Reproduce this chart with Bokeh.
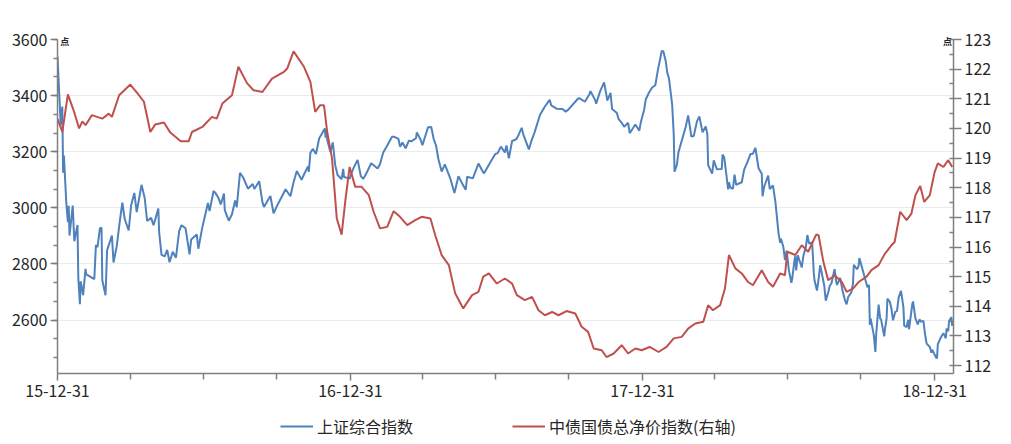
import pandas as pd
from bokeh.plotting import figure
from bokeh.layouts import column
from bokeh.models import (Range1d, LinearAxis, SingleIntervalTicker, FixedTicker,
                          Legend, LegendItem, DatetimeTickFormatter, ColumnDataSource)
from bokeh.embed import file_html
from bokeh.resources import INLINE

# ---------------- data ----------------
sse_dates = [
    "2015-12-31", "2016-01-04", "2016-01-06", "2016-01-07", "2016-01-08", "2016-01-11", "2016-01-13",
    "2016-01-14", "2016-01-15", "2016-01-19", "2016-01-21", "2016-01-25", "2016-01-26", "2016-01-28",
    "2016-01-29", "2016-02-01", "2016-02-04", "2016-02-05", "2016-02-15", "2016-02-17", "2016-02-19",
    "2016-02-22", "2016-02-24", "2016-02-25", "2016-02-29", "2016-03-02", "2016-03-08", "2016-03-10",
    "2016-03-14", "2016-03-18", "2016-03-21", "2016-03-24", "2016-03-29", "2016-04-01", "2016-04-05",
    "2016-04-08", "2016-04-14", "2016-04-18", "2016-04-21", "2016-04-26", "2016-04-29", "2016-05-05",
    "2016-05-06", "2016-05-09", "2016-05-13", "2016-05-16", "2016-05-19", "2016-05-23", "2016-05-27",
    "2016-05-31", "2016-06-03", "2016-06-08", "2016-06-13", "2016-06-15", "2016-06-22", "2016-06-24",
    "2016-06-29", "2016-07-06", "2016-07-08", "2016-07-13", "2016-07-15", "2016-07-19", "2016-07-22",
    "2016-07-26", "2016-07-27", "2016-08-01", "2016-08-05", "2016-08-09", "2016-08-11", "2016-08-15",
    "2016-08-19", "2016-08-25", "2016-08-31", "2016-09-02", "2016-09-08", "2016-09-12", "2016-09-14",
    "2016-09-22", "2016-09-26", "2016-09-30", "2016-10-11", "2016-10-17", "2016-10-21", "2016-10-25",
    "2016-10-31", "2016-11-04", "2016-11-08", "2016-11-09", "2016-11-11", "2016-11-14", "2016-11-18",
    "2016-11-22", "2016-11-25", "2016-11-29", "2016-11-30", "2016-12-01", "2016-12-02", "2016-12-06",
    "2016-12-09", "2016-12-12", "2016-12-15", "2016-12-20", "2016-12-22", "2016-12-23", "2016-12-30",
    "2017-01-03", "2017-01-06", "2017-01-09", "2017-01-13", "2017-01-16", "2017-01-20", "2017-01-26",
    "2017-02-03", "2017-02-06", "2017-02-10", "2017-02-14", "2017-02-21", "2017-02-24", "2017-03-01",
    "2017-03-03", "2017-03-06", "2017-03-10", "2017-03-14", "2017-03-17", "2017-03-23", "2017-03-24",
    "2017-03-29", "2017-03-31", "2017-04-07", "2017-04-11", "2017-04-14", "2017-04-17", "2017-04-20",
    "2017-04-24", "2017-04-28", "2017-05-05", "2017-05-10", "2017-05-15", "2017-05-19", "2017-05-24",
    "2017-05-26", "2017-06-02", "2017-06-09", "2017-06-14", "2017-06-16", "2017-06-23", "2017-06-30",
    "2017-07-03", "2017-07-07", "2017-07-12", "2017-07-14", "2017-07-17", "2017-07-21", "2017-07-26",
    "2017-07-28", "2017-08-02", "2017-08-04", "2017-08-11", "2017-08-14", "2017-08-18", "2017-08-25",
    "2017-08-31", "2017-09-06", "2017-09-08", "2017-09-15", "2017-09-22", "2017-09-26", "2017-09-29",
    "2017-10-11", "2017-10-13", "2017-10-20", "2017-10-26", "2017-10-27", "2017-11-02", "2017-11-03",
    "2017-11-08", "2017-11-13", "2017-11-16", "2017-11-17", "2017-11-21", "2017-11-23", "2017-11-29",
    "2017-12-01", "2017-12-05", "2017-12-08", "2017-12-13", "2017-12-15", "2017-12-20", "2017-12-22",
    "2017-12-27", "2017-12-29",
    "2018-01-02", "2018-01-04", "2018-01-08", "2018-01-12", "2018-01-16", "2018-01-19", "2018-01-24",
    "2018-01-26", "2018-01-29", "2018-01-31", "2018-02-02", "2018-02-06", "2018-02-08", "2018-02-09",
    "2018-02-12", "2018-02-14", "2018-02-23", "2018-02-26", "2018-03-01", "2018-03-02", "2018-03-05",
    "2018-03-09", "2018-03-12", "2018-03-16", "2018-03-20", "2018-03-22", "2018-03-23", "2018-03-28",
    "2018-03-30", "2018-04-03", "2018-04-09", "2018-04-10", "2018-04-12", "2018-04-13", "2018-04-17",
    "2018-04-18", "2018-04-20", "2018-04-23", "2018-04-25", "2018-04-27", "2018-05-04", "2018-05-07",
    "2018-05-11", "2018-05-15", "2018-05-18", "2018-05-21", "2018-05-25", "2018-05-29", "2018-05-30",
    "2018-06-01", "2018-06-06", "2018-06-08", "2018-06-12", "2018-06-15", "2018-06-19", "2018-06-21",
    "2018-06-22", "2018-06-25", "2018-06-27", "2018-06-29", "2018-07-02", "2018-07-05", "2018-07-06",
    "2018-07-09", "2018-07-10", "2018-07-11", "2018-07-13", "2018-07-18", "2018-07-20", "2018-07-23",
    "2018-07-25", "2018-07-27", "2018-07-31", "2018-08-02", "2018-08-03", "2018-08-06", "2018-08-08",
    "2018-08-10", "2018-08-15", "2018-08-17", "2018-08-20", "2018-08-22", "2018-08-24", "2018-08-28",
    "2018-08-30", "2018-08-31", "2018-09-04", "2018-09-07", "2018-09-10", "2018-09-12", "2018-09-14",
    "2018-09-18", "2018-09-20", "2018-09-21", "2018-09-25", "2018-09-27", "2018-09-28", "2018-10-08",
    "2018-10-10", "2018-10-11", "2018-10-12", "2018-10-16", "2018-10-18", "2018-10-19", "2018-10-22",
    "2018-10-24", "2018-10-25", "2018-10-29", "2018-10-30", "2018-11-01", "2018-11-02", "2018-11-05",
    "2018-11-07", "2018-11-09", "2018-11-12", "2018-11-14", "2018-11-16", "2018-11-19", "2018-11-22",
    "2018-11-23", "2018-11-26", "2018-11-28", "2018-11-29", "2018-11-30", "2018-12-03", "2018-12-04",
    "2018-12-07", "2018-12-10", "2018-12-12", "2018-12-14", "2018-12-17", "2018-12-19", "2018-12-21",
    "2018-12-25", "2018-12-27", "2018-12-28",
    "2019-01-02", "2019-01-03", "2019-01-04", "2019-01-07", "2019-01-09", "2019-01-11", "2019-01-14",
    "2019-01-15", "2019-01-17", "2019-01-18", "2019-01-21", "2019-01-22",
]
sse_values = [
    3539, 3296, 3361, 3125, 3186, 3017, 2949,
    3007, 2901, 3008, 2881, 2939, 2750, 2656,
    2738, 2689, 2782, 2763, 2746, 2867, 2860,
    2927, 2929, 2742, 2688, 2849, 2901, 2805,
    2863, 2955, 3018, 2960, 2919, 3009, 3053,
    2985, 3082, 3034, 2953, 2964, 2938, 2997,
    2913, 2832, 2827, 2850, 2806, 2843, 2822,
    2917, 2938, 2927, 2834, 2887, 2905, 2854,
    2931, 3017, 2988, 3060, 3054, 3036, 3012,
    3051, 2992, 2954, 2977, 3026, 3002, 3125,
    3108, 3068, 3085, 3067, 3095, 3021, 3003,
    3042, 2980, 3005, 3066, 3041, 3091, 3131,
    3100, 3125, 3147, 3128, 3196, 3210, 3192,
    3248, 3262, 3283, 3250, 3273, 3243, 3199,
    3233, 3152, 3117, 3102, 3139, 3110, 3104,
    3136, 3154, 3171, 3113, 3103, 3123, 3159,
    3140, 3156, 3197, 3217, 3253, 3253, 3246,
    3218, 3233, 3212, 3239, 3237, 3248, 3269,
    3241, 3223, 3287, 3288, 3246, 3222, 3173,
    3129, 3155, 3103, 3053, 3113, 3090, 3064,
    3111, 3105, 3158, 3131, 3123, 3158, 3192,
    3195, 3218, 3197, 3222, 3176, 3238, 3244,
    3253, 3285, 3262, 3208, 3237, 3268, 3332,
    3361, 3385, 3365, 3353, 3352, 3343, 3349,
    3388, 3391, 3378, 3407, 3416, 3383, 3371,
    3415, 3447, 3400, 3382, 3410, 3352, 3338,
    3317, 3303, 3289, 3303, 3266, 3288, 3297,
    3275, 3307,
    3349, 3386, 3410, 3429, 3437, 3488, 3559,
    3558, 3523, 3481, 3462, 3370, 3262, 3129,
    3154, 3199, 3289, 3329, 3274, 3254, 3256,
    3308, 3326, 3269, 3290, 3263, 3152, 3122,
    3169, 3137, 3138, 3190, 3180, 3159, 3066,
    3091, 3071, 3068, 3118, 3082, 3091, 3136,
    3163, 3192, 3193, 3214, 3141, 3121, 3041,
    3075, 3115, 3067, 3080, 3022, 2908, 2875,
    2890, 2860, 2814, 2847, 2776, 2733, 2747,
    2815, 2827, 2777, 2831, 2787, 2829, 2859,
    2903, 2873, 2876, 2768, 2740, 2705, 2745,
    2795, 2724, 2669, 2698, 2722, 2730, 2781,
    2737, 2725, 2750, 2703, 2670, 2656, 2682,
    2699, 2730, 2797, 2781, 2792, 2821, 2717,
    2725, 2583, 2606, 2546, 2486, 2550, 2655,
    2604, 2603, 2542, 2568, 2606, 2676, 2665,
    2641, 2599, 2630, 2632, 2680, 2704, 2646,
    2580, 2575, 2601, 2567, 2588, 2655, 2666,
    2606, 2584, 2602, 2594, 2597, 2550, 2516,
    2504, 2483, 2494,
    2465, 2464, 2514, 2533, 2544, 2553, 2535,
    2570, 2560, 2596, 2610, 2579,
]

bond_dates = [
    "2015-12-31", "2016-01-06", "2016-01-13", "2016-01-20", "2016-01-27", "2016-01-31", "2016-02-04",
    "2016-02-12", "2016-02-25", "2016-03-04", "2016-03-08", "2016-03-17", "2016-03-31", "2016-04-09",
    "2016-04-17", "2016-04-25", "2016-05-01", "2016-05-12", "2016-05-20", "2016-06-02", "2016-06-12",
    "2016-06-16", "2016-06-29", "2016-07-11", "2016-07-17", "2016-07-24", "2016-08-05", "2016-08-13",
    "2016-08-24", "2016-09-01", "2016-09-12", "2016-09-24", "2016-10-09", "2016-10-13", "2016-10-21",
    "2016-11-03", "2016-11-11", "2016-11-17", "2016-11-23", "2016-11-28", "2016-12-02", "2016-12-08",
    "2016-12-14", "2016-12-20", "2016-12-25", "2016-12-30",
    "2017-01-06", "2017-01-14", "2017-01-23", "2017-01-29", "2017-02-06", "2017-02-15", "2017-02-23",
    "2017-03-03", "2017-03-12", "2017-03-22", "2017-03-30", "2017-04-10", "2017-04-16", "2017-04-24",
    "2017-05-03", "2017-05-11", "2017-05-21", "2017-06-01", "2017-06-09", "2017-06-15", "2017-06-22",
    "2017-07-02", "2017-07-12", "2017-07-21", "2017-07-27", "2017-08-06", "2017-08-15", "2017-08-23",
    "2017-08-31", "2017-09-09", "2017-09-17", "2017-09-27", "2017-10-08", "2017-10-16", "2017-10-24",
    "2017-10-31", "2017-11-10", "2017-11-16", "2017-11-25", "2017-12-05", "2017-12-13", "2017-12-22",
    "2017-12-30",
    "2018-01-09", "2018-01-20", "2018-01-30", "2018-02-08", "2018-02-18", "2018-02-26", "2018-03-07",
    "2018-03-17", "2018-03-23", "2018-03-29", "2018-04-07", "2018-04-13", "2018-04-18", "2018-04-26",
    "2018-05-04", "2018-05-12", "2018-05-18", "2018-05-29", "2018-06-06", "2018-06-12", "2018-06-21",
    "2018-06-27", "2018-06-30", "2018-07-10", "2018-07-18", "2018-07-26", "2018-08-05", "2018-08-08",
    "2018-08-14", "2018-08-20", "2018-08-28", "2018-09-06", "2018-09-12", "2018-09-20", "2018-09-27",
    "2018-10-07", "2018-10-13", "2018-10-22", "2018-10-30", "2018-11-07", "2018-11-11", "2018-11-18",
    "2018-11-26", "2018-12-02", "2018-12-07", "2018-12-13", "2018-12-18", "2018-12-25", "2018-12-31",
    "2019-01-04", "2019-01-11", "2019-01-17", "2019-01-22",
]
bond_values = [
    120.33, 119.88, 121.15, 120.62, 120.00, 120.24, 120.11,
    120.45, 120.33, 120.50, 120.39, 121.12, 121.48, 121.18,
    120.90, 119.88, 120.13, 120.20, 119.86, 119.57, 119.57,
    119.88, 120.05, 120.39, 120.33, 120.84, 121.12, 122.08,
    121.52, 121.29, 121.23, 121.68, 121.91, 122.02, 122.60,
    122.08, 121.57, 120.56, 120.78, 120.78, 119.88, 118.99,
    116.96, 116.42, 117.64, 118.70,
    118.03, 118.03, 117.75, 117.19, 116.63, 116.68, 117.21,
    117.02, 116.74, 116.91, 117.02, 116.96, 116.40, 115.73,
    115.39, 114.43, 113.93, 114.38, 114.49, 115.00, 115.11,
    114.77, 114.94, 114.77, 114.38, 114.21, 114.32, 113.87,
    113.70, 113.81, 113.70, 113.84, 113.76, 113.31, 113.14,
    112.58, 112.52, 112.29, 112.41, 112.69, 112.41, 112.58,
    112.52,
    112.63, 112.46, 112.63, 112.92, 112.97, 113.25, 113.42,
    113.48, 114.04, 113.87, 114.04, 114.60, 115.73, 115.28,
    115.11, 114.82, 114.71, 115.22, 114.82, 114.66, 115.11,
    115.05, 115.84, 115.73, 116.06, 115.84, 116.42, 116.40,
    115.50, 114.88, 115.05, 114.82, 114.49, 114.60, 114.82,
    115.00, 115.22, 115.39, 115.78, 116.06, 116.17, 117.19,
    116.91, 117.13, 117.75, 118.06, 117.52, 117.75, 118.53,
    118.82, 118.70, 118.93, 118.70,
]

series_names = ["上证综合指数", "中债国债总净价指数(右轴)"]
x_tick_dates = ["2015-12-31", "2016-12-31", "2017-12-31", "2018-12-31"]
x_tick_labels = ["15-12-31", "16-12-31", "17-12-31", "18-12-31"]
x_minor_dates = ["2016-03-31", "2016-06-30", "2016-09-30", "2017-03-31", "2017-06-30",
                 "2017-09-30", "2018-03-31", "2018-06-30", "2018-09-30"]
unit_label = "点"
unit_label_dates = ["2016-01-09", "2019-01-16"]   # where the two unit marks sit (left / right axis)

# ---------------- helpers ----------------
def to_ms(s):
    return int(pd.Timestamp(s).value // 10**6)

FONT = "Noto Sans CJK SC"
BLUE = "#4F81BD"
RED = "#C0504D"
AXIS = "#7f7f7f"
TEXT = "#262626"

sse_src = ColumnDataSource(dict(x=pd.to_datetime(sse_dates), y=sse_values))
bond_src = ColumnDataSource(dict(x=pd.to_datetime(bond_dates), y=bond_values))

x_start = pd.Timestamp("2015-12-31")
x_end = pd.Timestamp("2019-01-23 14:00")

MAIN_H = 410
p = figure(width=1011, height=MAIN_H, x_axis_type="datetime", output_backend="svg",
           toolbar_location=None, min_border_left=57, min_border_right=58,
           min_border_top=39, min_border_bottom=MAIN_H - 373,
           x_range=Range1d(x_start, x_end), y_range=Range1d(2409.3, 3600))
p.outline_line_color = None
p.background_fill_color = "white"
p.border_fill_color = "white"
p.extra_y_ranges = {"bond": Range1d(111.735, 123)}

r1 = p.line("x", "y", source=sse_src, line_color=BLUE, line_width=2)
r2 = p.line("x", "y", source=bond_src, line_color=RED, line_width=2, y_range_name="bond")

# x axis
xa = p.xaxis[0]
tick_ms = [to_ms(d) for d in x_tick_dates]
xa.ticker = FixedTicker(ticks=tick_ms, minor_ticks=[to_ms(d) for d in x_minor_dates])
xa.formatter = DatetimeTickFormatter(days="%y-%m-%d", months="%y-%m-%d", years="%y-%m-%d")
xa.major_label_overrides = {t: lab for t, lab in zip(tick_ms, x_tick_labels)}

# left axis
ya = p.yaxis[0]
ya.ticker = SingleIntervalTicker(interval=200, num_minor_ticks=3)

# right axis
ra = LinearAxis(y_range_name="bond", ticker=SingleIntervalTicker(interval=1, num_minor_ticks=2))
p.add_layout(ra, "right")

for ax in (xa, ya, ra):
    ax.axis_line_color = AXIS
    ax.axis_line_width = 1.5
    ax.major_tick_line_color = AXIS
    ax.major_tick_line_width = 1.5
    ax.minor_tick_line_color = AXIS
    ax.minor_tick_line_width = 1.5
    ax.major_tick_in = 0
    ax.major_tick_out = 7
    ax.minor_tick_in = 0
    ax.minor_tick_out = 4
    ax.major_label_text_font = FONT
    ax.major_label_text_font_size = "16px"
    ax.major_label_text_color = TEXT
    ax.major_label_standoff = 3
ra.minor_tick_in = 4
ra.minor_tick_out = 0
ra.major_tick_out = 8
xa.minor_tick_out = 6
xa.major_tick_out = 7
xa.major_label_standoff = 4

# unit marks "点" above both value axes (an unlined axis on top carrying two labels)
unit_ms = [to_ms(d) for d in unit_label_dates]
ua = LinearAxis(ticker=FixedTicker(ticks=unit_ms, minor_ticks=[]),
                major_label_overrides={t: unit_label for t in unit_ms})
ua.axis_line_color = None
ua.major_tick_line_color = None
ua.minor_tick_line_color = None
ua.major_tick_in = 0
ua.major_tick_out = 0
ua.major_label_standoff = -8
ua.major_label_text_font = FONT
ua.major_label_text_font_size = "9px"
ua.major_label_text_font_style = "bold"
ua.major_label_text_color = TEXT
p.add_layout(ua, "above")

p.xgrid.visible = False
p.ygrid.grid_line_color = "#ebebeb"
p.ygrid.grid_line_width = 1

# ---------------- legend strip ----------------
# (frame of this strip is aligned with the main frame, so its origin is x = 57 px)
LEG_H = 444 - MAIN_H
lg = figure(width=1011, height=LEG_H, output_backend="svg", toolbar_location=None,
            x_axis_type=None, y_axis_type=None, min_border=0,
            x_range=Range1d(0, 1), y_range=Range1d(0, 1))
lg.outline_line_color = None
lg.grid.visible = False
# same series, same styles; they fall outside this strip's ranges, only their legend keys show
lr1 = lg.line("x", "y", source=sse_src, line_color=BLUE, line_width=2)
lr2 = lg.line("x", "y", source=bond_src, line_color=RED, line_width=2)
legend = Legend(items=[LegendItem(label=series_names[0], renderers=[lr1]),
                       LegendItem(label=series_names[1], renderers=[lr2])],
                orientation="horizontal", location=(223, 6),
                glyph_width=33, glyph_height=20, label_standoff=4, spacing=99,
                label_text_font=FONT, label_text_font_size="16px", label_text_color=TEXT,
                border_line_color=None, background_fill_alpha=0, padding=0, margin=0)
lg.add_layout(legend, "center")

open("out.html", "w").write(file_html(column(p, lg, spacing=0), INLINE))
